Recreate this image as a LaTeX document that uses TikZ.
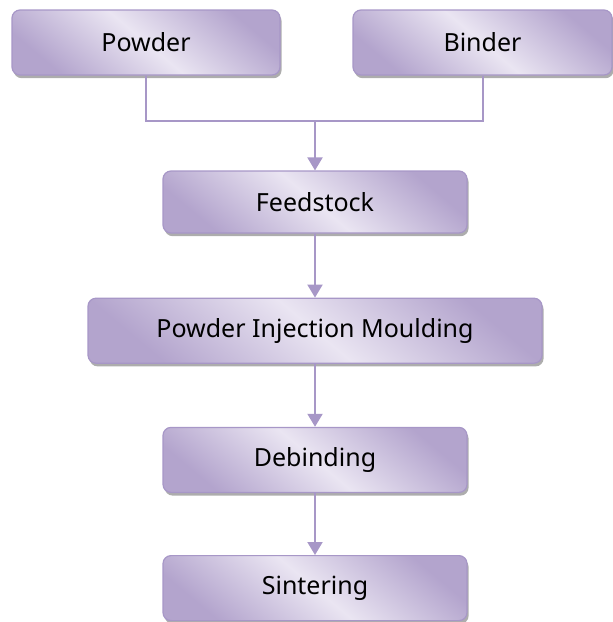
\documentclass[tikz,border=0pt]{standalone}
\usepackage{fontspec}
\newfontfamily\boxfont{Noto Sans}
\usepackage{tikz}
\usetikzlibrary{positioning,arrows.meta,calc,shadows}

\definecolor{lilacdark}{HTML}{B3A4CD}
\definecolor{lilaclight}{HTML}{EAE5F2}
\definecolor{lilacline}{HTML}{A797C7}

\begin{document}
\begin{tikzpicture}[
    node distance=32pt,
    box/.style={draw=lilacline, line width=0.6pt, rounded corners=4pt,
                top color=lilacdark, bottom color=lilacdark, middle color=lilaclight,
                shading angle=-40, minimum height=32.5pt, align=center,
                font=\boxfont\fontsize{12.5pt}{15pt}\selectfont,
                drop shadow={shadow xshift=0.8pt, shadow yshift=-1.6pt, fill=black!40, opacity=0.8}},
    link/.style={draw=lilacline, line width=1pt},
    arr/.style={link, -{Triangle[width=7.5pt, length=6.5pt]}},
  ]
  \useasboundingbox (0,0) rectangle (306.5pt,-311pt);
  % Raw materials
  \node[box, minimum width=134pt]   (powder) at (73pt,-21.25pt) {Powder};
  \node[box, minimum width=129.5pt] (binder) at (241.25pt,-21.25pt) {Binder};
  % Process chain
  \node[box, minimum width=152pt, minimum height=31pt] (feed) at (157.5pt,-101pt) {Feedstock};
  \node[box, minimum width=227pt, below=32pt of feed]  (pim)   {Powder Injection Moulding};
  \node[box, minimum width=152pt, below=31.5pt of pim] (debind) {Debinding};
  \node[box, minimum width=152pt, below=31pt of debind] (sinter) {Sintering};
  % Join point
  \coordinate (join) at ($(feed.north)+(0,24.5pt)$);

  \draw[link] (powder.south) |- (join) -| (binder.south);
  \draw[arr] (join)        -- (feed.north);
  \draw[arr] (feed.south)  -- (pim.north);
  \draw[arr] (pim.south)   -- (debind.north);
  \draw[arr] (debind.south) -- (sinter.north);
\end{tikzpicture}
\end{document}
